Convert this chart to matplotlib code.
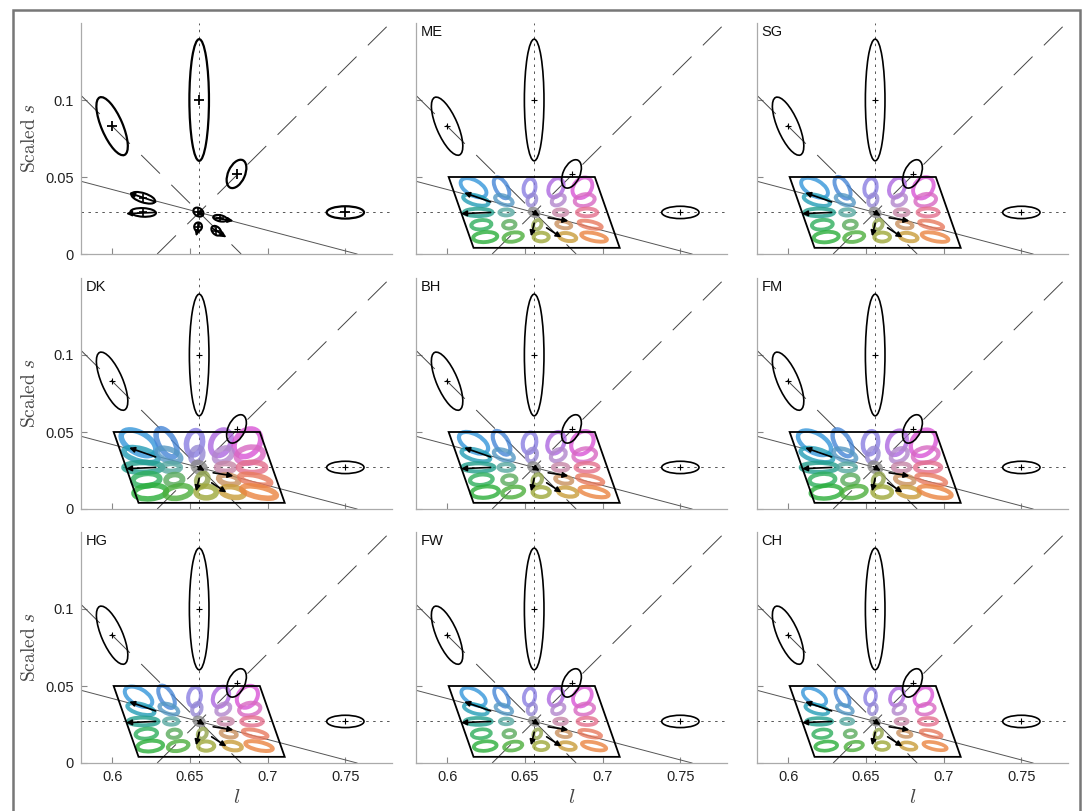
import numpy as np
import matplotlib.pyplot as plt
from matplotlib.patches import Ellipse, Polygon, Rectangle

plt.rcParams['font.family'] = ['Liberation Sans', 'DejaVu Sans']
plt.rcParams['mathtext.fontset'] = 'cm'
plt.rcParams['lines.scale_dashes'] = False

# adaptation point and the lines through it
center_l = 0.656
center_s = 0.027
solid_slope = -0.266
dash_slopes = [1.0, -1.0]

# black test ellipses: centre, semi axes, angle (deg)
big_l = [0.600, 0.656, 0.680, 0.750]
big_s = [0.083, 0.100, 0.052, 0.027]
big_a = [0.0203, 0.0395, 0.0098, 0.0120]
big_b = [0.0068, 0.0063, 0.0054, 0.0040]
big_ang = [-67, 90, 66, 0]

# small ellipses of the first panel
small_l = [0.620, 0.620, 0.6555, 0.6695, 0.6553, 0.667]
small_s = [0.0365, 0.0270, 0.0272, 0.0232, 0.0177, 0.0151]
small_a = [0.0080, 0.0082, 0.0035, 0.0045, 0.0028, 0.0037]
small_b = [0.0030, 0.0028, 0.0026, 0.0020, 0.0025, 0.0025]
small_ang = [-18, -3, -35, -12, 80, -45]

# shift arrows
arrow_from = [(0.628, 0.0338), (0.628, 0.0270), (0.6550, 0.0275),
              (0.6650, 0.0235), (0.6560, 0.0200), (0.6640, 0.0170)]
arrow_to = [(0.611, 0.0398), (0.609, 0.0262), (0.6595, 0.0248),
            (0.6780, 0.0215), (0.6540, 0.0115), (0.6735, 0.0108)]

# stimulus grid (5 x 5) and its frame
grid_l = [0.620, 0.638, 0.656, 0.673, 0.690]
grid_s = [0.043, 0.035, 0.027, 0.019, 0.011]
row_skew = [-0.003, -0.0015, 0.0, 0.002, 0.0045]
frame_l = [0.601, 0.695, 0.711, 0.617]
frame_s = [0.050, 0.050, 0.004, 0.004]

# ellipse shapes of the grid (observer ME), rows top to bottom
grid_a = [[0.0085, 0.0070, 0.0055, 0.0060, 0.0068],
          [0.0078, 0.0055, 0.0035, 0.0042, 0.0060],
          [0.0085, 0.0040, 0.0028, 0.0040, 0.0060],
          [0.0060, 0.0037, 0.0030, 0.0045, 0.0070],
          [0.0072, 0.0058, 0.0045, 0.0052, 0.0078]]
grid_b = [[0.0045, 0.0035, 0.0035, 0.0042, 0.0052],
          [0.0028, 0.0026, 0.0025, 0.0028, 0.0035],
          [0.0022, 0.0018, 0.0020, 0.0018, 0.0023],
          [0.0028, 0.0023, 0.0023, 0.0020, 0.0020],
          [0.0030, 0.0027, 0.0026, 0.0023, 0.0023]]
grid_ang = [[-30, -60, 80, 65, 50],
            [-15, -20, 70, 30, 10],
            [0, 0, -30, 0, 0],
            [5, 5, 60, -10, -12],
            [5, 10, 0, -10, -12]]
grid_colors = [['#3596da', '#4686d6', '#8a7ee2', '#ad68e0', '#d955d6'],
               ['#239db6', '#5598c4', '#9688d4', '#b286cc', '#d868c2'],
               ['#229e8c', '#58a8a0', '#888888', '#c686a6', '#e4708e'],
               ['#2eae5c', '#5aaa5c', '#92a44c', '#c8905e', '#e87a5e'],
               ['#2aae3a', '#4cae3c', '#9ea83a', '#c89c3a', '#ea8440']]

observers = ['', 'ME', 'SG', 'DK', 'BH', 'FM', 'HG', 'FW', 'CH']
obs_scale = [0, 1.08, 1.12, 1.45, 1.22, 1.38, 1.15, 1.02, 0.98]
obs_lw = [0, 2.8, 2.8, 4.0, 3.0, 3.2, 2.9, 2.7, 2.6]

x_ticks = [0.6, 0.65, 0.7, 0.75]
y_ticks = [0, 0.05, 0.1]

W, H = 1086, 811
col_left = [81, 416, 757]
row_bottom = [254, 509, 763]
ax_w, ax_h = 311, 231


def draw_common(ax, first):
    lw_big = 1.6 if first else 1.2
    ax.axhline(center_s, color='#555555', lw=0.7, dashes=(1.8, 3.2))
    ax.axvline(center_l, color='#555555', lw=0.7, dashes=(1.8, 3.2))
    ax.axline((center_l, center_s), slope=solid_slope, color='#555555', lw=0.7)
    for sl in dash_slopes:
        ax.axline((center_l, center_s), slope=sl, color='#444444', lw=0.7,
                  dashes=(19, 11.5))
    for i in range(len(big_l)):
        ax.add_patch(Ellipse((big_l[i], big_s[i]), 2 * big_a[i], 2 * big_b[i],
                             angle=big_ang[i], fill=False, ec='k', lw=lw_big, zorder=5))
    ax.plot(big_l, big_s, '+', color='k', ms=7 if first else 4,
            mew=1.3 if first else 0.8, zorder=6)


def draw_arrows(ax):
    for p0, p1 in zip(arrow_from, arrow_to):
        ax.annotate('', xy=p1, xytext=p0,
                    arrowprops=dict(arrowstyle='-|>', color='k', lw=1.2,
                                    mutation_scale=8, shrinkA=0, shrinkB=0),
                    zorder=7)


def draw_grid(ax, scale, lw):
    for r in range(5):
        for c in range(5):
            l = grid_l[c] + row_skew[r]
            s = grid_s[r]
            ax.add_patch(Ellipse((l, s), 2 * grid_a[r][c] * scale,
                                 2 * grid_b[r][c] * scale, angle=grid_ang[r][c],
                                 fill=False, ec=grid_colors[r][c], lw=lw,
                                 alpha=0.8, zorder=3))
    ax.add_patch(Polygon(list(zip(frame_l, frame_s)), closed=True, fill=False,
                         ec='k', lw=1.3, zorder=4))


fig = plt.figure(figsize=(W / 100, H / 100), dpi=100)
fig.patches.append(Rectangle((13 / W, -0.02), (1080 - 13) / W, 1.02 - 10 / H,
                             transform=fig.transFigure, fill=False,
                             ec='#777777', lw=1.8))

for k, name in enumerate(observers):
    row, col = k // 3, k % 3
    ax = fig.add_axes([col_left[col] / W, 1 - row_bottom[row] / H, ax_w / W, ax_h / H])
    ax.set_xlim(0.58, 0.78)
    ax.set_ylim(0, 0.15)
    for sp in ['top', 'right']:
        ax.spines[sp].set_visible(False)
    for sp in ['left', 'bottom']:
        ax.spines[sp].set_color('#aaaaaa')
        ax.spines[sp].set_linewidth(0.9)
    ax.set_xticks(x_ticks)
    ax.set_xticklabels(['0.6', '0.65', '0.7', '0.75'])
    ax.set_yticks(y_ticks)
    ax.set_yticklabels(['0', '0.05', '0.1'])
    ax.tick_params(direction='in', length=4, color='#888888', labelsize=10.5,
                   labelcolor='#222222', pad=5,
                   labelbottom=(row == 2), labelleft=(col == 0))

    first = (k == 0)
    if first:
        for i in range(len(small_l)):
            ax.add_patch(Ellipse((small_l[i], small_s[i]), 2 * small_a[i], 2 * small_b[i],
                                 angle=small_ang[i], fill=False, ec='k', lw=1.5, zorder=5))
        ax.plot(small_l, small_s, '+', color='k', ms=6, mew=1.2, zorder=6)
    else:
        draw_grid(ax, obs_scale[k], obs_lw[k])
        ax.text(0.015, 0.99, name, transform=ax.transAxes, ha='left', va='top',
                fontsize=10.5, color='#111111')
    draw_common(ax, first)
    draw_arrows(ax)

    if col == 0:
        ax.set_ylabel(r'$\mathrm{Scaled}\ s$', fontsize=14, color='#444444')
        ax.yaxis.set_label_coords(-0.135, 0.5)
    if row == 2:
        ax.set_xlabel(r'$l$', fontsize=15, color='#444444')
        ax.xaxis.set_label_coords(0.5, -0.11)

plt.savefig('out.png', dpi=100)
